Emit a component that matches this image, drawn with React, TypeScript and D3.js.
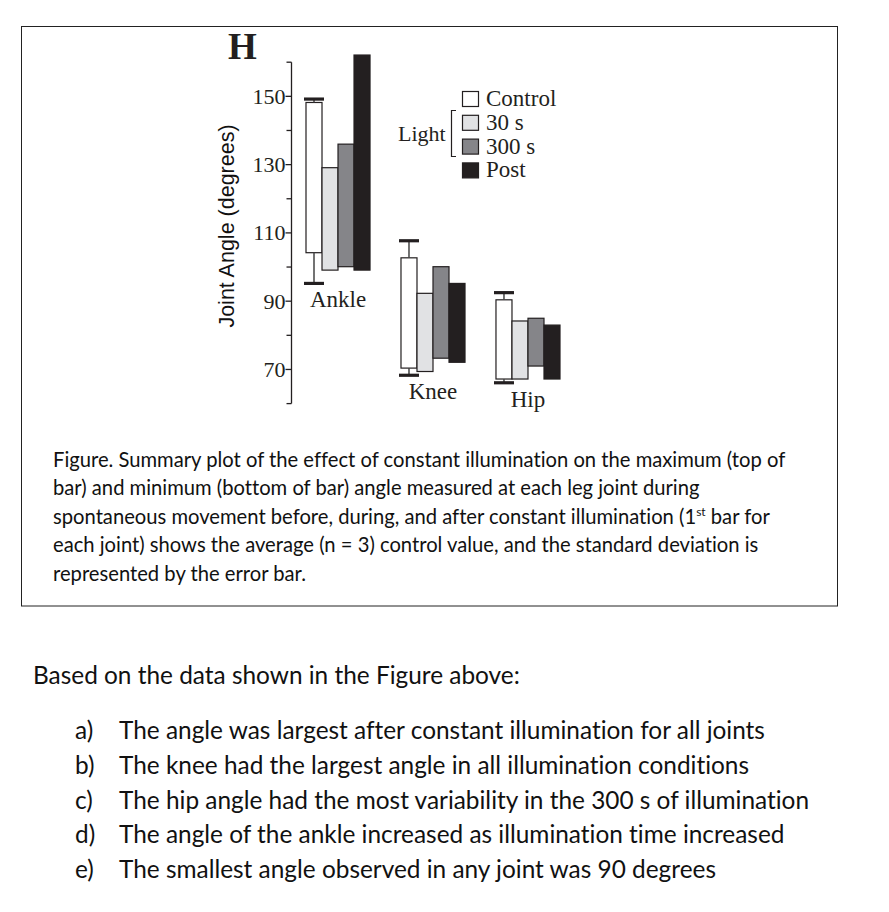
import React from "react";
import * as d3 from "d3";

// joints and light conditions
const joints = ["Ankle", "Knee", "Hip"];
const conditions = ["Control", "30 s", "300 s", "Post"];
const conditionColors = ["#ffffff", "#e1e2e4", "#858589", "#231f20"];

// max (top of bar) and min (bottom of bar) per joint, per condition
const maxAngle = [
  [148.2, 129.1, 136.0, 162.1],
  [102.7, 92.3, 100.1, 95.2],
  [90.4, 84.2, 85.0, 83.0],
];
const minAngle = [
  [104.2, 99.1, 100.1, 99.1],
  [70.4, 69.4, 73.3, 72.1],
  [67.2, 67.2, 71.0, 67.2],
];
// error bar ends on the control bar
const errTop = [149.2, 107.7, 92.5];
const errBottom = [95.2, 68.3, 66.1];

const yTicks = [70, 90, 110, 130, 150];
const yMinorTicks = [60, 80, 100, 120, 140, 160];

const captionLines = [
  "Figure. Summary plot of the effect of constant illumination on the maximum (top of",
  "bar) and minimum (bottom of bar) angle measured at each leg joint during",
  "spontaneous movement before, during, and after constant illumination (1|st| bar for",
  "each joint) shows the average (n = 3) control value, and the standard deviation is",
  "represented by the error bar.",
];
const question = "Based on the data shown in the Figure above:";
const answers = [
  ["a)", "The angle was largest after constant illumination for all joints"],
  ["b)", "The knee had the largest angle in all illumination conditions"],
  ["c)", "The hip angle had the most variability in the 300 s of illumination"],
  ["d)", "The angle of the ankle increased as illumination time increased"],
  ["e)", "The smallest angle observed in any joint was 90 degrees"],
];

const serif = "'Liberation Serif', 'Times New Roman', serif";
const sans = "Lato, 'Open Sans', sans-serif";
const noLig = { fontVariantLigatures: "none" } as React.CSSProperties;

export default function App() {
  const width = 889;
  const height = 912;

  const axisX = 291.5;
  const y = d3.scaleLinear().domain([60, 160]).range([403.6, 62.2]);
  const x0 = d3.scaleBand().domain(joints).range([306, 560]).paddingInner(0.326).paddingOuter(0);
  const x1 = d3.scaleBand().domain(conditions).range([0, x0.bandwidth()]).padding(0);

  const legendX = 462;
  const legendY = 91;
  const legendStep = 23.8;

  return (
    <svg width={width} height={height} style={{ position: "absolute", left: 0, top: 0, background: "#fff" }}>
      {/* outer figure box */}
      <rect x={21.5} y={26.5} width={816} height={579.5} fill="none" stroke="#222" strokeWidth={1} />

      <text x={228} y={59} fontFamily={serif} fontWeight="bold" fontSize={37} fill="#231f20">H</text>

      {/* y axis */}
      <line x1={axisX} x2={axisX} y1={y(160)} y2={y(60)} stroke="#231f20" strokeWidth={1.3} />
      {yMinorTicks.map((t) => (
        <line key={"m" + t} x1={axisX - 5} x2={axisX} y1={y(t)} y2={y(t)} stroke="#231f20" strokeWidth={1.3} />
      ))}
      {yTicks.map((t) => (
        <g key={t}>
          <line x1={axisX - 6} x2={axisX} y1={y(t)} y2={y(t)} stroke="#231f20" strokeWidth={1.3} />
          <text x={axisX - 6} y={y(t)} dy="0.34em" textAnchor="end" fontFamily={serif} fontSize={22} fill="#231f20">
            {t}
          </text>
        </g>
      ))}
      <text
        transform={`translate(227,${226}) rotate(-90)`}
        textAnchor="middle"
        dominantBaseline="central"
        fontFamily="'Liberation Sans', Arial, sans-serif"
        fontSize={21.5}
        fill="#111"
      >
        Joint Angle (degrees)
      </text>

      {/* bars */}
      {joints.map((j, ji) => {
        const gx = x0(j) as number;
        const cx = gx + (x1(conditions[0]) as number) + x1.bandwidth() / 2;
        const labelY = y(errBottom[ji]) + 24;
        return (
          <g key={j}>
            {conditions.map((c, ci) => (
              <rect
                key={c}
                x={gx + (x1(c) as number)}
                y={y(maxAngle[ji][ci])}
                width={x1.bandwidth()}
                height={y(minAngle[ji][ci]) - y(maxAngle[ji][ci])}
                fill={conditionColors[ci]}
                stroke="#231f20"
                strokeWidth={1.2}
              />
            ))}
            {/* error bar on control */}
            <line x1={cx} x2={cx} y1={y(errTop[ji])} y2={y(maxAngle[ji][0])} stroke="#444" strokeWidth={1.5} />
            <line x1={cx} x2={cx} y1={y(minAngle[ji][0])} y2={y(errBottom[ji])} stroke="#444" strokeWidth={1.5} />
            <line x1={cx - 10} x2={cx + 10} y1={y(errTop[ji])} y2={y(errTop[ji])} stroke="#231f20" strokeWidth={3.2} />
            <line x1={cx - 10} x2={cx + 10} y1={y(errBottom[ji])} y2={y(errBottom[ji])} stroke="#231f20" strokeWidth={3.2} />
            <text
              x={gx + x0.bandwidth() / 2}
              y={labelY}
              textAnchor="middle"
              fontFamily={serif}
              fontSize={23}
              fill="#231f20"
            >
              {j}
            </text>
          </g>
        );
      })}

      {/* legend */}
      {conditions.map((c, ci) => (
        <g key={c} transform={`translate(${legendX},${legendY + ci * legendStep})`}>
          <rect x={0.5} y={0.5} width={16} height={15} fill={conditionColors[ci]} stroke="#231f20" strokeWidth={1.2} />
          <text x={24} y={15} fontFamily={serif} fontSize={23} fill="#231f20">
            {c}
          </text>
        </g>
      ))}
      <text x={398} y={141} fontFamily={serif} fontSize={22} fill="#231f20">Light</text>
      <path d="M456,110.5 H451.5 V156.5 H456" fill="none" stroke="#231f20" strokeWidth={1.2} />

      {/* caption */}
      {captionLines.map((line, i) => {
        const parts = line.split("|");
        return (
          <text key={i} x={53} y={466.5 + i * 28.5} fontFamily={sans} fontSize={20.2} fill="#111" style={noLig}>
            {parts.length === 1
              ? line
              : [
                  <tspan key="a">{parts[0]}</tspan>,
                  <tspan key="b" fontSize={12} dy={-8}>{parts[1]}</tspan>,
                  <tspan key="c" dy={8}>{parts[2]}</tspan>,
                ]}
          </text>
        );
      })}

      {/* question */}
      <text x={33} y={684} fontFamily={sans} fontSize={24.4} fill="#111" style={noLig}>{question}</text>
      {answers.map(([k, t], i) => (
        <g key={k}>
          <text x={75} y={739 + i * 34.8} fontFamily={sans} fontSize={24.4} fill="#111" style={noLig}>{k}</text>
          <text x={119} y={739 + i * 34.8} fontFamily={sans} fontSize={24.4} fill="#111" style={noLig}>{t}</text>
        </g>
      ))}
    </svg>
  );
}
